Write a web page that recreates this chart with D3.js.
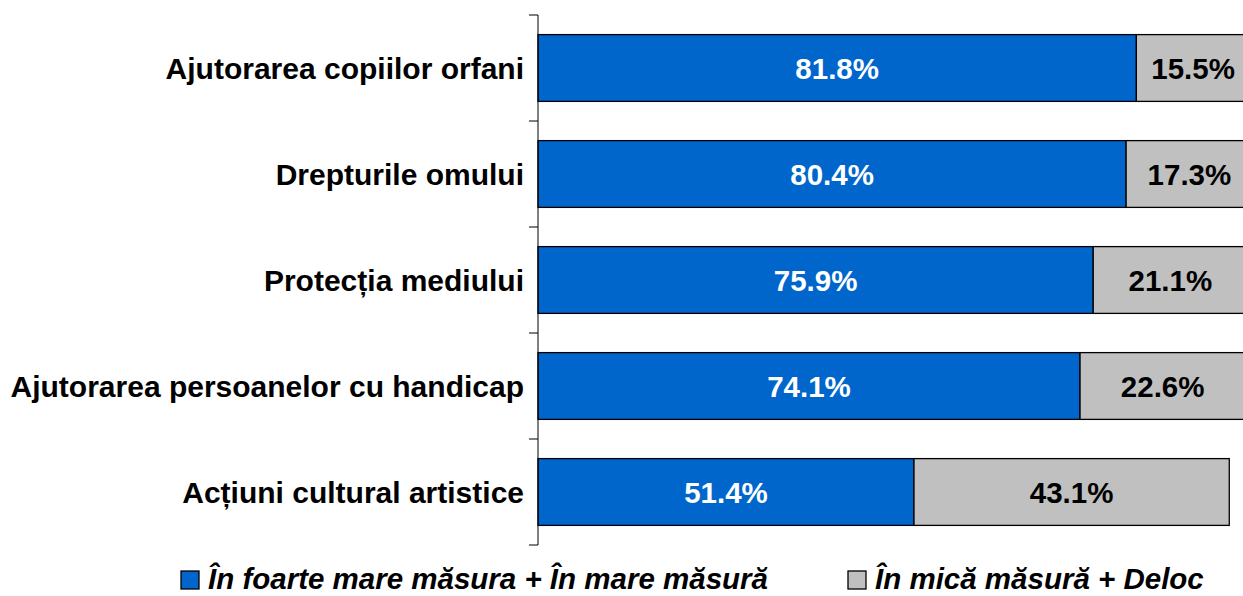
<!DOCTYPE html>
<html>
<head>
<meta charset="utf-8">
<script src="https://cdn.jsdelivr.net/npm/d3@7"></script>
<style>
  body { margin: 0; background: #fff; }
  svg { display: block; font-family: "Liberation Sans", Arial, sans-serif; }
</style>
</head>
<body>
<div id="chart"></div>
<script>
// data
const categories = [
    "Ajutorarea copiilor orfani",
    "Drepturile omului",
    "Protecția mediului",
    "Ajutorarea persoanelor cu handicap",
    "Acțiuni cultural artistice"
]
const seriesNames = ["În foarte mare măsura + În mare măsură", "În mică măsură + Deloc"]
const mare = [81.8, 80.4, 75.9, 74.1, 51.4]
const mica = [15.5, 17.3, 21.1, 22.6, 43.1]
const colors = ["#0066CC", "#C0C0C0"]
const labelColors = ["#ffffff", "#000000"]

const width = 1243
const height = 596
const margin = { top: 15, bottom: 51, left: 538 }

const svg = d3.select("#chart")
    .append("svg")
    .attr("width", width)
    .attr("height", height)

const x = d3.scaleLinear()
    .domain([0, 100])
    .range([margin.left, margin.left + 731.5])

const y = d3.scaleBand()
    .domain(categories)
    .range([margin.top, height - margin.bottom])
    .paddingInner(0.37)
    .paddingOuter(0.185)

// stack rows
const rows = categories.map((c, i) => ({ cat: c, v: [mare[i], mica[i]] }))
const segs = []
rows.forEach(r => {
    let start = 0
    r.v.forEach((v, k) => {
        segs.push({ cat: r.cat, k: k, x0: start, x1: start + v, v: v })
        start += v
    })
})

svg.append("g")
    .selectAll("rect")
    .data(segs)
    .join("rect")
    .attr("x", d => x(d.x0))
    .attr("y", d => y(d.cat))
    .attr("width", d => x(d.x1) - x(d.x0))
    .attr("height", y.bandwidth())
    .attr("fill", d => colors[d.k])
    .attr("stroke", "#000")
    .attr("stroke-width", 1.3)

svg.append("g")
    .selectAll("text")
    .data(segs)
    .join("text")
    .attr("x", d => (x(d.x0) + x(d.x1)) / 2)
    .attr("y", d => y(d.cat) + y.bandwidth() / 2)
    .attr("dy", "0.36em")
    .attr("text-anchor", "middle")
    .attr("font-size", 29.5)
    .attr("font-weight", "bold")
    .attr("fill", d => labelColors[d.k])
    .text(d => d.v.toFixed(1) + "%")

// axis with ticks between categories
const axis = svg.append("g")
axis.append("line")
    .attr("x1", margin.left).attr("x2", margin.left)
    .attr("y1", margin.top).attr("y2", height - margin.bottom)
    .attr("stroke", "#000").attr("stroke-width", 1)
d3.range(categories.length + 1).forEach(i => {
    const ty = margin.top + i * (height - margin.bottom - margin.top) / categories.length
    axis.append("line")
        .attr("x1", margin.left - 9).attr("x2", margin.left)
        .attr("y1", ty).attr("y2", ty)
        .attr("stroke", "#000").attr("stroke-width", 1)
})

svg.append("g")
    .selectAll("text")
    .data(categories)
    .join("text")
    .attr("x", margin.left - 14)
    .attr("y", d => y(d) + y.bandwidth() / 2)
    .attr("dy", "0.36em")
    .attr("text-anchor", "end")
    .attr("font-size", 30)
    .attr("font-weight", "bold")
    .text(d => d)

// legend
const legendX = [181, 848]
const legend = svg.append("g")
seriesNames.forEach((name, i) => {
    legend.append("rect")
        .attr("x", legendX[i]).attr("y", 571)
        .attr("width", 18).attr("height", 18)
        .attr("fill", colors[i])
        .attr("stroke", "#000").attr("stroke-width", 1.3)
    legend.append("text")
        .attr("x", legendX[i] + 27).attr("y", 589)
        .attr("font-size", 29.5)
        .attr("font-weight", "bold")
        .attr("font-style", "italic")
        .text(name)
})
</script>
</body>
</html>
